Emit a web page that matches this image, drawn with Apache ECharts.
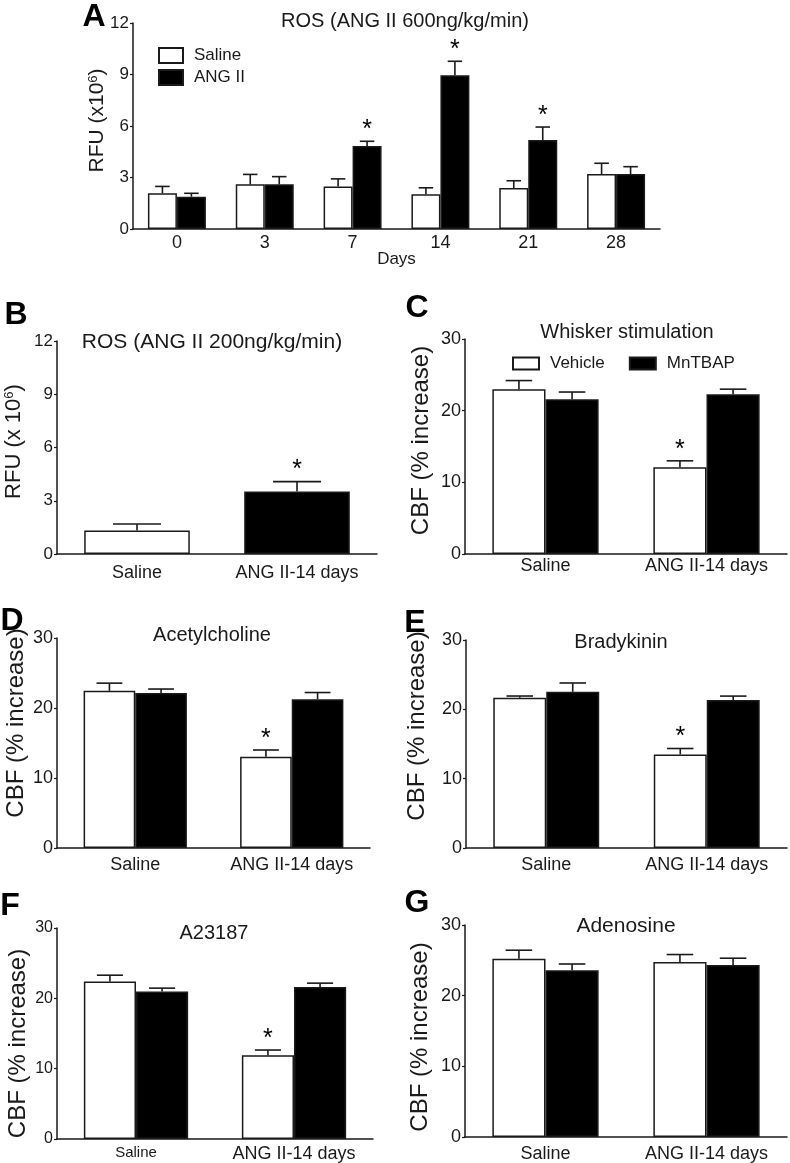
<!DOCTYPE html>
<html>
<head>
<meta charset="utf-8">
<title>ROS and CBF responses</title>
<script src="https://cdn.jsdelivr.net/npm/echarts@6/dist/echarts.min.js"></script>
<style>
  html, body { margin: 0; padding: 0; background: #fff; }
  #chart { width: 790px; height: 1163px; }
</style>
</head>
<body>
<div id="chart"></div>
<script>
// A: ROS over time (ANG II 600ng/kg/min)
var daysA = ['0', '3', '7', '14', '21', '28']
var salineA = [2.08, 2.6, 2.47, 2.03, 2.39, 3.2]
var salineSemA = [0.4, 0.58, 0.45, 0.37, 0.42, 0.63]
var angA = [1.88, 2.6, 4.83, 8.95, 5.18, 3.2]
var angSemA = [0.2, 0.45, 0.28, 0.82, 0.76, 0.43]
var angSigA = [0, 0, 1, 1, 1, 0]

// B: ROS (ANG II 200ng/kg/min)
var groupsB = ['Saline', 'ANG II-14 days']
var rosB = [1.33, 3.52]
var rosSemB = [0.36, 0.56]
var rosSigB = [0, 1]

// C-G: CBF (% increase), vehicle vs MnTBAP
var groups = ['Saline', 'ANG II-14 days']
var vehC = [23.0, 12.1]
var vehSemC = [1.2, 0.9]
var mnC = [21.6, 22.3]
var mnSemC = [1.0, 0.7]

var vehD = [22.45, 13.04]
var vehSemD = [1.1, 0.96]
var mnD = [22.16, 21.26]
var mnSemD = [0.55, 0.95]

var vehE = [21.67, 13.5]
var vehSemE = [0.25, 0.85]
var mnE = [22.53, 21.33]
var mnSemE = [1.27, 0.58]

var vehF = [22.39, 11.9]
var vehSemF = [0.9, 0.75]
var mnF = [20.97, 21.6]
var mnSemF = [0.48, 0.56]

var vehG = [25.23, 24.77]
var vehSemG = [1.2, 1.05]
var mnG = [23.6, 24.35]
var mnSemG = [0.88, 0.95]

var vehSig = [0, 1]
var mnSig = [0, 0]

var font = 'Liberation Sans, Arial, sans-serif'
var ink = '#1a1a1a'

var grids = []
var xAxes = []
var yAxes = []
var series = []
var graphics = []

function errBars(offset, cap) {
  return function (params, api) {
    var i = api.value(0)
    var band = api.size([1, 0])[0]
    var p0 = api.coord([i, api.value(1)])
    var p1 = api.coord([i, api.value(1) + api.value(2)])
    var cx = p0[0] + offset * band
    var half = cap * band / 2
    var st = { stroke: ink, lineWidth: 1.6 }
    var kids = [
      { type: 'line', shape: { x1: cx, y1: p0[1], x2: cx, y2: p1[1] }, style: st },
      { type: 'line', shape: { x1: cx - half, y1: p1[1], x2: cx + half, y2: p1[1] }, style: st }
    ]
    if (api.value(3)) {
      kids.push({
        type: 'text',
        style: { text: '*', x: cx, y: p1[1] - 11, align: 'center', verticalAlign: 'middle', font: '25px ' + font, fill: '#000' }
      })
    }
    return { type: 'group', children: kids }
  }
}

function errData(mean, sem, sig) {
  return mean.map(function (v, i) {
    return [i, v, sem[i], sig[i]]
  })
}

function addAxes(grid, cats, yMax, yStep, p) {
  grids.push(grid)
  xAxes.push({
    type: 'category',
    gridIndex: grids.length - 1,
    data: cats,
    name: p.xName || '',
    nameLocation: 'middle',
    nameGap: 22,
    nameMoveOverlap: false,
    nameTextStyle: { fontFamily: font, fontSize: 17, color: ink },
    axisLine: { lineStyle: { color: ink, width: 1.5 } },
    axisTick: { show: false },
    axisLabel: { interval: 0, hideOverlap: false, fontFamily: font, fontSize: p.xFont, color: ink, margin: p.xMargin }
  })
  yAxes.push({
    type: 'value',
    gridIndex: grids.length - 1,
    min: 0,
    max: yMax,
    interval: yStep,
    name: p.yName,
    nameLocation: 'middle',
    nameGap: p.yGap,
    nameMoveOverlap: false,
    nameTextStyle: {
      fontFamily: font,
      fontSize: p.yNameFont,
      color: ink,
      padding: p.yPad,
      rich: {
        sup: { fontFamily: font, fontSize: Math.round(p.yNameFont * 0.6), verticalAlign: 'top', lineHeight: p.yNameFont, color: ink }
      }
    },
    splitLine: { show: false },
    axisLine: { show: true, lineStyle: { color: ink, width: 1.5 } },
    axisTick: { show: true, length: 3, lineStyle: { color: ink, width: 1.2 } },
    axisLabel: { fontFamily: font, fontSize: p.yFont, color: ink, margin: 4 }
  })
  return grids.length - 1
}

function addPair(k, names, m1, s1, g1, m2, s2, g2) {
  var whiteStyle = { color: '#fff', borderColor: ink, borderWidth: 1.5 }
  var blackStyle = { color: '#000', borderColor: ink, borderWidth: 1.5 }
  series.push({
    name: names[0], type: 'bar', xAxisIndex: k, yAxisIndex: k,
    barGap: '0%', barCategoryGap: '34%', itemStyle: whiteStyle, data: m1
  })
  series.push({
    name: names[1], type: 'bar', xAxisIndex: k, yAxisIndex: k,
    barGap: '0%', barCategoryGap: '34%', itemStyle: blackStyle, data: m2
  })
  series.push({
    type: 'custom', xAxisIndex: k, yAxisIndex: k, z: 3,
    renderItem: errBars(-0.165, 0.165), data: errData(m1, s1, g1)
  })
  series.push({
    type: 'custom', xAxisIndex: k, yAxisIndex: k, z: 3,
    renderItem: errBars(0.165, 0.165), data: errData(m2, s2, g2)
  })
}

function addText(text, x, y, size, bold) {
  graphics.push({
    type: 'text',
    x: x,
    y: y,
    style: {
      text: text,
      align: 'center',
      verticalAlign: 'middle',
      font: (bold ? 'bold ' : '') + size + 'px ' + font,
      fill: bold ? '#000' : ink
    }
  })
}

var cbfName = 'CBF (% increase)'

// A
var kA = addAxes({ left: 133, top: 23, width: 527, height: 206 }, daysA, 12, 3, {
  xName: 'Days', xFont: 18, xMargin: 5, yFont: 17,
  yName: 'RFU (x10{sup|6})', yNameFont: 21, yGap: 25, yPad: [0, 0, 0, 11]
})
addPair(kA, ['Saline', 'ANG II'], salineA, salineSemA, [0, 0, 0, 0, 0, 0], angA, angSemA, angSigA)

// B
var kB = addAxes({ left: 57, top: 341, width: 320, height: 213 }, groupsB, 12, 3, {
  xFont: 18, xMargin: 10, yFont: 17,
  yName: 'RFU (x 10{sup|6})', yNameFont: 22, yGap: 32, yPad: [0, 0, 0, 12]
})
series.push({
  name: 'ROS', type: 'bar', xAxisIndex: kB, yAxisIndex: kB, barCategoryGap: '34%',
  itemStyle: { borderColor: ink, borderWidth: 1.5 },
  data: rosB.map(function (v, i) {
    return { value: v, itemStyle: { color: i === 0 ? '#fff' : '#000' } }
  })
})
series.push({
  type: 'custom', xAxisIndex: kB, yAxisIndex: kB, z: 3,
  renderItem: errBars(0, 0.3), data: errData(rosB, rosSemB, rosSigB)
})

// C
var kC = addAxes({ left: 465, top: 339, width: 322, height: 215 }, groups, 30, 10, {
  xFont: 18, xMargin: 3, yFont: 18,
  yName: cbfName, yNameFont: 24, yGap: 32, yPad: [0, 0, 0, 12]
})
addPair(kC, ['Vehicle', 'MnTBAP'], vehC, vehSemC, vehSig, mnC, mnSemC, mnSig)

// D
var kD = addAxes({ left: 57, top: 638, width: 313, height: 210 }, groups, 30, 10, {
  xFont: 18, xMargin: 8, yFont: 18,
  yName: cbfName, yNameFont: 24, yGap: 29, yPad: [0, 0, 0, 40]
})
addPair(kD, ['Vehicle', 'MnTBAP'], vehD, vehSemD, vehSig, mnD, mnSemD, mnSig)

// E
var kE = addAxes({ left: 466, top: 640, width: 321, height: 208 }, groups, 30, 10, {
  xFont: 18, xMargin: 8, yFont: 18,
  yName: cbfName, yNameFont: 24, yGap: 37, yPad: [0, 0, 0, 36]
})
addPair(kE, ['Vehicle', 'MnTBAP'], vehE, vehSemE, vehSig, mnE, mnSemE, mnSig)

// F (Saline label is set smaller in the original)
var kF = addAxes({ left: 57, top: 928, width: 316, height: 212 },
  [{ value: groups[0], textStyle: { fontSize: 15 } }, groups[1]], 30, 10, {
    xFont: 18, xMargin: 6, yFont: 16,
    yName: cbfName, yNameFont: 24, yGap: 27, yPad: [0, 20, 0, 0]
  })
addPair(kF, ['Vehicle', 'MnTBAP'], vehF, vehSemF, vehSig, mnF, mnSemF, mnSig)

// G
var kG = addAxes({ left: 465, top: 925, width: 322, height: 216 }, groups, 30, 10, {
  xFont: 18, xMargin: 8, yFont: 18,
  yName: cbfName, yNameFont: 24, yGap: 33, yPad: [0, 12, 0, 0]
})
addPair(kG, ['Vehicle', 'MnTBAP'], vehG, vehSemG, mnSig, mnG, mnSemG, mnSig)

// titles
addText('ROS (ANG II 600ng/kg/min)', 405, 21, 20)
addText('ROS (ANG II 200ng/kg/min)', 212, 342, 21)
addText('Whisker stimulation', 627, 332, 20)
addText('Acetylcholine', 212, 635, 20)
addText('Bradykinin', 621, 642, 20)
addText('A23187', 214, 933, 20)
addText('Adenosine', 626, 926, 21)

// panel letters
addText('A', 94, 17, 32, true)
addText('B', 16, 315, 32, true)
addText('C', 417, 308, 32, true)
addText('D', 12, 621, 32, true)
addText('E', 415, 623, 32, true)
addText('F', 10, 906, 32, true)
addText('G', 417, 903, 32, true)

var myChart = echarts.init(document.getElementById('chart'))
myChart.setOption({
  animation: false,
  backgroundColor: '#fff',
  legend: [
    {
      data: ['Saline', 'ANG II'],
      orient: 'vertical',
      left: 153,
      top: 42,
      icon: 'rect',
      itemWidth: 24,
      itemHeight: 15,
      itemGap: 5,
      textStyle: { fontFamily: font, fontSize: 17, color: ink, padding: [0, 0, 0, 6] }
    },
    {
      data: ['Vehicle', 'MnTBAP'],
      orient: 'horizontal',
      left: 507,
      top: 350,
      icon: 'rect',
      itemWidth: 26,
      itemHeight: 12,
      itemGap: 24,
      textStyle: { fontFamily: font, fontSize: 17, color: ink, padding: [0, 0, 0, 6] }
    }
  ],
  grid: grids,
  xAxis: xAxes,
  yAxis: yAxes,
  series: series,
  graphic: graphics
})
</script>
</body>
</html>
